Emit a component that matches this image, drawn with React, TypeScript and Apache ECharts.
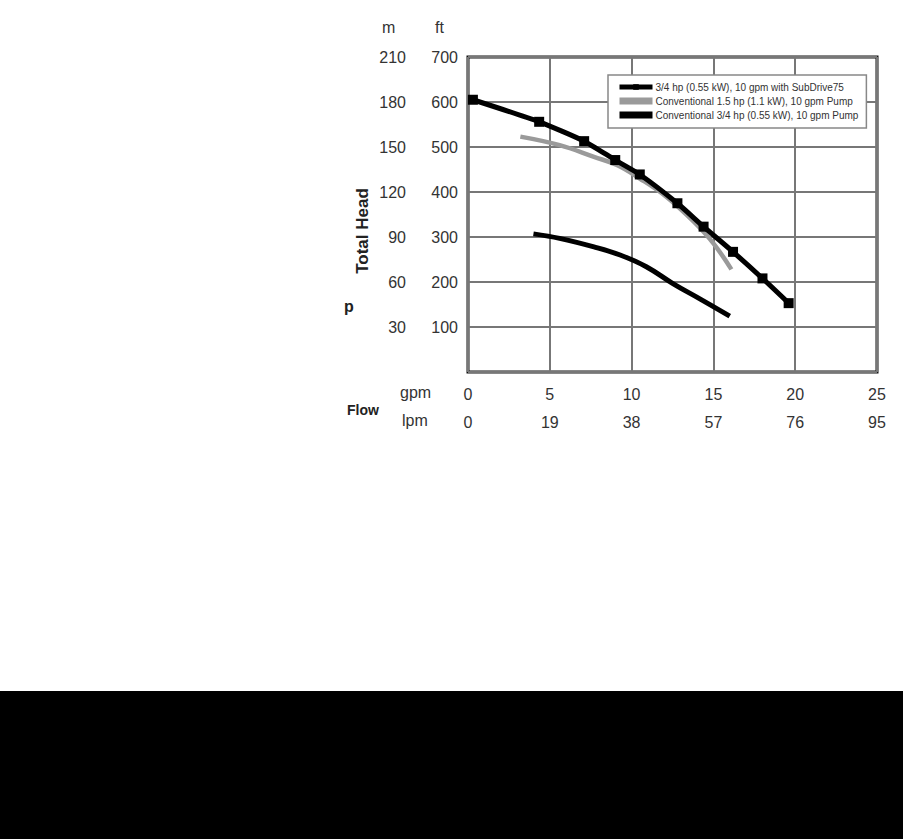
import React, { useEffect, useRef } from "react";
import * as echarts from "echarts";

// Flow (gpm) vs Total Head (ft)
const seriesNames = [
  "3/4 hp (0.55 kW), 10 gpm with SubDrive75",
  "Conventional 1.5 hp (1.1 kW), 10 gpm Pump",
  "Conventional 3/4 hp (0.55 kW), 10 gpm Pump",
];
const subDrive75: [number, number][] = [
  [0.3, 605], [4.35, 556], [7.1, 513], [9.0, 471], [10.5, 439],
  [12.8, 375], [14.4, 323], [16.2, 267], [18.0, 208], [19.6, 153],
];
const conventional15: [number, number][] = [
  [3.2, 523], [5.6, 504], [7.7, 478], [9.1, 460], [10.5, 430],
  [12.1, 390], [13.8, 334], [15.0, 286], [16.1, 228],
];
const conventional34: [number, number][] = [
  [4.0, 307], [5.6, 297], [7.7, 278], [9.3, 260], [10.9, 234],
  [12.5, 197], [14.2, 162], [16.0, 124],
];
const gpmRange = { min: 0, max: 25, interval: 5 };
const lpmRange = { min: 0, max: 95, interval: 19 };
const ftRange = { min: 0, max: 700, interval: 100 };
const mRange = { min: 0, max: 210, interval: 30 };

const FONT = "Liberation Sans, Arial, sans-serif";
const LABEL_COLOR = "#333";
const GRAY = "#9a9a9a";

export default function App() {
  const ref = useRef<HTMLDivElement>(null);
  useEffect(() => {
    if (!ref.current) return;
    const chart = echarts.init(ref.current, null, { renderer: "svg" });
    const hideZero = (v: number) => (v === 0 ? "" : String(v));
    const baseLabel = { color: LABEL_COLOR, fontSize: 16, fontFamily: FONT };
    chart.setOption({
      animation: false,
      backgroundColor: "#fff",
      textStyle: { fontFamily: FONT },
      grid: {
        left: 468, right: 26, top: 57, bottom: 467,
        show: true, borderColor: "#111", borderWidth: 3, backgroundColor: "#fff",
      },
      legend: {
        data: [
          { name: seriesNames[0] },
          { name: seriesNames[1], icon: "rect" },
          { name: seriesNames[2], icon: "rect" },
        ],
        orient: "vertical",
        left: 608,
        top: 75,
        itemGap: 4,
        itemWidth: 33,
        itemHeight: 7,
        selectedMode: false,
        backgroundColor: "#fff",
        borderColor: "#888",
        borderWidth: 1.5,
        padding: [7, 8, 8, 9],
        lineStyle: { width: 5 },
        textStyle: { fontSize: 10, color: "#333", fontFamily: FONT, padding: [0, 0, 0, -2] },
      },
      xAxis: [
        {
          type: "value", ...gpmRange, position: "bottom",
          axisLine: { show: false }, axisTick: { show: false },
          axisLabel: { ...baseLabel, margin: 14 },
          splitLine: { show: true, lineStyle: { color: "#777", width: 2 } },
        },
        {
          type: "value", ...lpmRange, position: "bottom", offset: 28,
          axisLine: { show: false }, axisTick: { show: false },
          axisLabel: { ...baseLabel, margin: 14 },
          splitLine: { show: false },
        },
      ],
      yAxis: [
        {
          type: "value", ...ftRange, position: "left",
          axisLine: { show: false }, axisTick: { show: false },
          axisLabel: { ...baseLabel, margin: 10, formatter: hideZero },
          splitLine: { show: true, lineStyle: { color: "#777", width: 2 } },
        },
        {
          type: "value", ...mRange, position: "left", offset: 52,
          axisLine: { show: false }, axisTick: { show: false },
          axisLabel: { ...baseLabel, margin: 10, formatter: hideZero },
          splitLine: { show: false },
        },
      ],
      series: [
        {
          name: seriesNames[0], type: "line", data: subDrive75,
          xAxisIndex: 0, yAxisIndex: 0, smooth: 0.2,
          symbol: "rect", symbolSize: 10,
          lineStyle: { color: "#000", width: 5 },
          itemStyle: { color: "#000" }, z: 5,
        },
        {
          name: seriesNames[1], type: "line", data: conventional15,
          xAxisIndex: 0, yAxisIndex: 0, smooth: 0.4, symbol: "none",
          lineStyle: { color: GRAY, width: 4.5 },
          itemStyle: { color: GRAY }, z: 4,
        },
        {
          name: seriesNames[2], type: "line", data: conventional34,
          xAxisIndex: 0, yAxisIndex: 0, smooth: 0.4, symbol: "none",
          lineStyle: { color: "#000", width: 5 },
          itemStyle: { color: "#000" }, z: 4,
        },
      ],
      graphic: [
        { type: "text", left: 382, top: 19, style: { text: "m", fontSize: 16, fill: LABEL_COLOR, fontFamily: FONT } },
        { type: "text", left: 435, top: 19, style: { text: "ft", fontSize: 16, fill: LABEL_COLOR, fontFamily: FONT } },
        {
          type: "text", x: 362, y: 231, rotation: Math.PI / 2,
          style: { text: "Total Head", fontSize: 17, fontWeight: "bold", fill: "#222", fontFamily: FONT, align: "center", verticalAlign: "middle" },
        },
        {
          type: "text", x: 349, y: 306,
          style: { text: "p", fontSize: 16, fontWeight: "bold", fill: "#222", fontFamily: FONT, align: "center", verticalAlign: "middle" },
        },
        { type: "text", x: 400, y: 392, style: { text: "gpm", fontSize: 16, fill: LABEL_COLOR, fontFamily: FONT, verticalAlign: "middle" } },
        { type: "text", x: 402, y: 420, style: { text: "lpm", fontSize: 16, fill: LABEL_COLOR, fontFamily: FONT, verticalAlign: "middle" } },
        { type: "text", x: 347, y: 410, style: { text: "Flow", fontSize: 14, fontWeight: "bold", fill: "#222", fontFamily: FONT, verticalAlign: "middle" } },
        { type: "rect", shape: { x: 0, y: 691, width: 903, height: 148 }, style: { fill: "#000" }, z: -1 },
      ],
    });
    return () => chart.dispose();
  }, []);
  return (
    <div
      ref={ref}
      style={{ position: "absolute", left: 0, top: 0, width: 903, height: 839 }}
    />
  );
}
